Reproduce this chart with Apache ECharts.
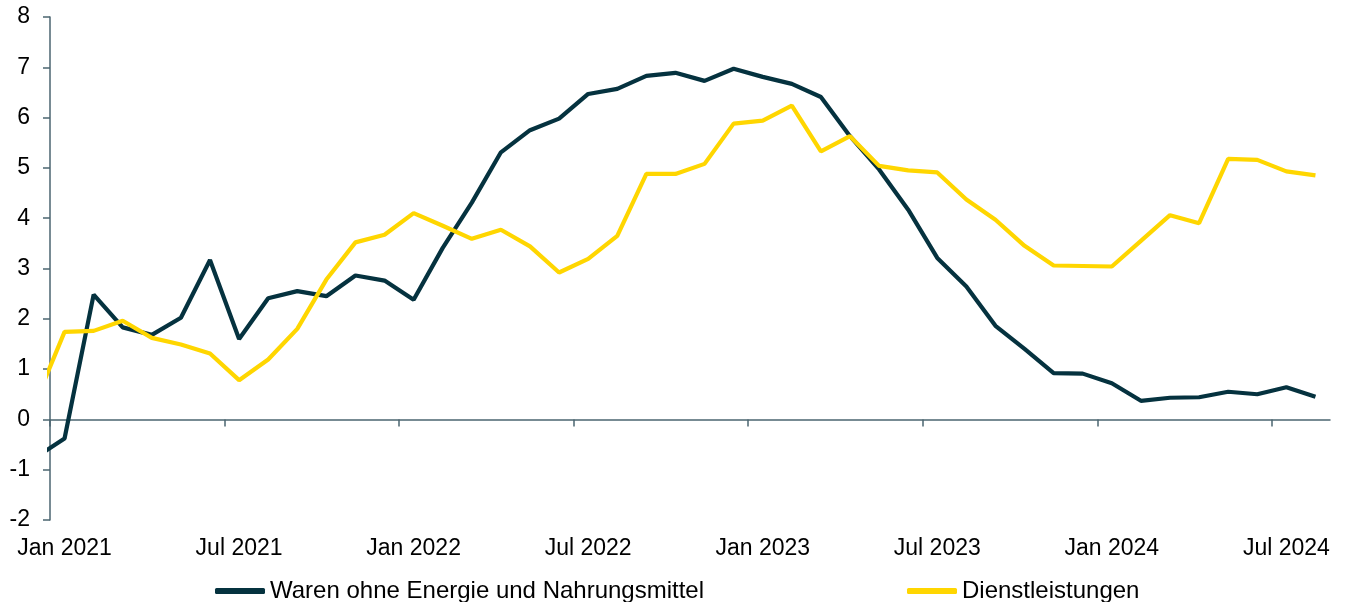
<!DOCTYPE html>
<html>
<head>
<meta charset="utf-8">
<script src="https://cdn.jsdelivr.net/npm/echarts@6/dist/echarts.min.js"></script>
<style>
  html, body { margin: 0; padding: 0; background: #fff; }
  #chart { width: 1345px; height: 602px; }
</style>
</head>
<body>
<div id="chart"></div>
<script>
// months, Dec 2020 is only there so the line enters from the left edge
const months = [
  "Dec 2020",
  "Jan 2021", "Feb 2021", "Mar 2021", "Apr 2021", "May 2021", "Jun 2021",
  "Jul 2021", "Aug 2021", "Sep 2021", "Oct 2021", "Nov 2021", "Dec 2021",
  "Jan 2022", "Feb 2022", "Mar 2022", "Apr 2022", "May 2022", "Jun 2022",
  "Jul 2022", "Aug 2022", "Sep 2022", "Oct 2022", "Nov 2022", "Dec 2022",
  "Jan 2023", "Feb 2023", "Mar 2023", "Apr 2023", "May 2023", "Jun 2023",
  "Jul 2023", "Aug 2023", "Sep 2023", "Oct 2023", "Nov 2023", "Dec 2023",
  "Jan 2024", "Feb 2024", "Mar 2024", "Apr 2024", "May 2024", "Jun 2024",
  "Jul 2024", "Aug 2024",
]

const goods = [
  -0.76,
  -0.38, 2.48, 1.83, 1.68, 2.02, 3.17, 1.60, 2.41, 2.55, 2.45, 2.86, 2.76,
  2.38, 3.41, 4.31, 5.31, 5.75, 5.98, 6.47, 6.57, 6.83, 6.89, 6.73, 6.97,
  6.81, 6.67, 6.41, 5.63, 4.97, 4.17, 3.21, 2.64, 1.86, 1.40, 0.92, 0.91,
  0.72, 0.37, 0.43, 0.44, 0.55, 0.50, 0.64, 0.45,
]

const services = [
  0.34,
  1.74, 1.76, 1.96, 1.62, 1.49, 1.31, 0.78, 1.19, 1.80, 2.78, 3.52, 3.67,
  4.10, 3.85, 3.59, 3.77, 3.44, 2.92, 3.19, 3.65, 4.88, 4.88, 5.08, 5.88,
  5.94, 6.24, 5.33, 5.63, 5.04, 4.95, 4.91, 4.37, 3.97, 3.45, 3.06, 3.05,
  3.04, 3.55, 4.06, 3.90, 5.18, 5.16, 4.93, 4.85,
]

const yTicks = { min: -2, max: 8, step: 1 }

const seriesNames = ["Waren ohne Energie und Nahrungsmittel", "Dienstleistungen"]
const seriesColors = ["#05323f", "#ffd600"]

const FONT = "'Liberation Sans', Arial, sans-serif"
const AXIS_COLOR = "#4b6570"

const axisMonths = months.slice(1)
// point i sits in the middle of its month band (Dec 2020 falls left of the axis)
const toPoints = (arr) => arr.map((v, i) => [i - 0.5, v])
// a tick every six months, at the start of Jan / Jul
const monthTicks = axisMonths.map((m, i) => i).filter((i) => i % 6 === 0)

const chart = echarts.init(document.getElementById("chart"))

chart.setOption({
  animation: false,
  textStyle: { fontFamily: FONT },
  grid: { left: 50, right: 15, top: 17, bottom: 82, containLabel: false },
  xAxis: [
    {
      // value axis for the lines, drawn as the zero line with ticks
      type: "value",
      min: 0,
      max: axisMonths.length,
      interval: 6,
      axisLine: { onZero: true, lineStyle: { color: AXIS_COLOR, width: 1.5 } },
      axisTick: {
        show: true,
        length: 7,
        customValues: monthTicks,
        lineStyle: { color: AXIS_COLOR, width: 1.5 },
      },
      axisLabel: { show: false },
      splitLine: { show: false },
    },
    {
      // category axis only for the month labels at the bottom
      type: "category",
      data: axisMonths,
      boundaryGap: true,
      position: "bottom",
      axisLine: { show: false, onZero: false },
      axisTick: { show: false },
      axisLabel: {
        interval: 5,
        color: "#000",
        fontSize: 23,
        fontFamily: FONT,
        margin: 17,
      },
      splitLine: { show: false },
    },
  ],
  yAxis: {
    type: "value",
    min: yTicks.min,
    max: yTicks.max,
    interval: yTicks.step,
    axisLine: { show: true, lineStyle: { color: AXIS_COLOR, width: 1.5 } },
    axisTick: { show: true, length: 7, lineStyle: { color: AXIS_COLOR, width: 1.5 } },
    axisLabel: { color: "#000", fontSize: 23, fontFamily: FONT, margin: 20 },
    splitLine: { show: false },
  },
  legend: [
    {
      data: [seriesNames[0]],
      left: 210,
      top: 574,
      icon: "roundRect",
      itemWidth: 50,
      itemHeight: 6,
      textStyle: { fontSize: 24, color: "#000", fontFamily: FONT },
    },
    {
      data: [seriesNames[1]],
      left: 902,
      top: 574,
      icon: "roundRect",
      itemWidth: 50,
      itemHeight: 6,
      textStyle: { fontSize: 24, color: "#000", fontFamily: FONT },
    },
  ],
  series: [
    {
      name: seriesNames[0],
      type: "line",
      xAxisIndex: 0,
      data: toPoints(goods),
      showSymbol: false,
      symbol: "none",
      clip: true,
      lineStyle: { color: seriesColors[0], width: 4.2 },
      itemStyle: { color: seriesColors[0] },
    },
    {
      name: seriesNames[1],
      type: "line",
      xAxisIndex: 0,
      data: toPoints(services),
      showSymbol: false,
      symbol: "none",
      clip: true,
      lineStyle: { color: seriesColors[1], width: 4.2 },
      itemStyle: { color: seriesColors[1] },
    },
  ],
})
</script>
</body>
</html>
